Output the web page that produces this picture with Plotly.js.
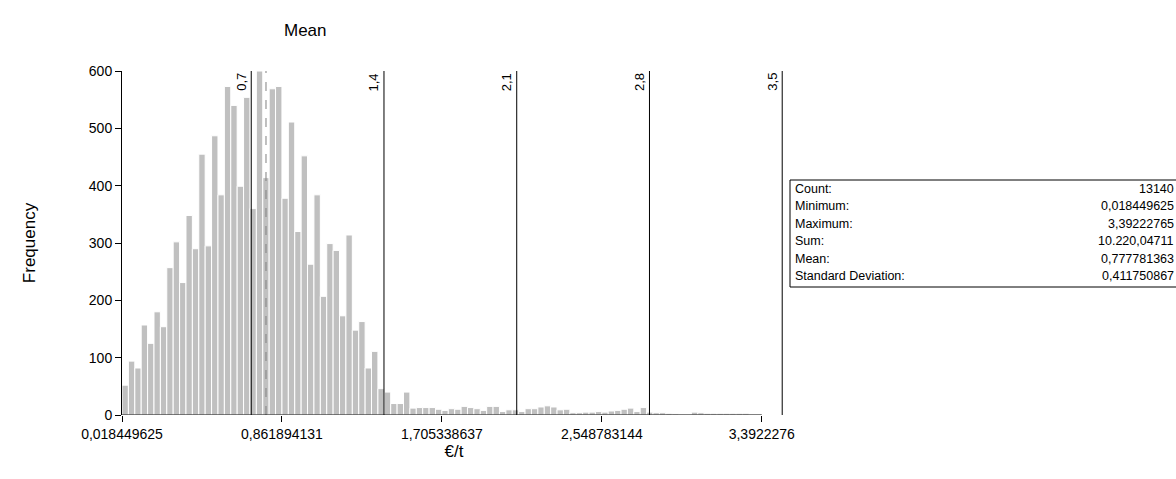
<!DOCTYPE html>
<html><head><meta charset="utf-8">
<script src="https://cdn.plot.ly/plotly-3.0.1.min.js"></script>
<style>html,body{margin:0;padding:0;background:#fff}#plot{width:1176px;height:479px}</style>
</head><body><div id="plot"></div>
<script>
"use strict";
// histogram of €/t, 100 bins from min to max
const xMin = 0.018449625;
const xMax = 3.39222765;
const meanValue = 0.777781363;
const counts = [52, 94, 82, 157, 125, 180, 154, 257, 302, 231,
  348, 290, 455, 295, 487, 384, 573, 540, 399, 554,
  360, 600, 414, 569, 573, 378, 511, 320, 452, 263,
  384, 207, 299, 287, 173, 314, 148, 163, 82, 111,
  46, 40, 20, 20, 40, 12, 13, 13, 13, 10,
  8, 11, 10, 15, 13, 11, 8, 15, 15, 6,
  9, 9, 6, 11, 11, 14, 16, 14, 9, 10,
  4, 4, 5, 5, 6, 5, 7, 8, 10, 12,
  6, 13, 5, 4, 4, 3, 2, 1, 0, 5,
  4, 3, 3, 3, 3, 3, 3, 3, 0, 0];
const refLines = [0.7, 1.4, 2.1, 2.8, 3.5];
const refLabels = ["0,7", "1,4", "2,1", "2,8", "3,5"];
const xTickVals = [0.018449625, 0.861894131, 1.705338637, 2.548783144, 3.39222765];
const xTickText = ["0,018449625", "0,861894131", "1,705338637", "2,548783144", "3,3922276"];
const statNames = ["Count:", "Minimum:", "Maximum:", "Sum:", "Mean:", "Standard Deviation:"];
const statValues = ["13140", "0,018449625", "3,39222765", "10.220,04711", "0,777781363", "0,411750867"];

const binW = (xMax - xMin) / counts.length;
const centers = counts.map((_, i) => xMin + binW * (i + 0.5));

const font = "Liberation Sans, Arial, sans-serif";
const px = p => (p - 122) / 664;   // pixel → paper x
const py = p => (415 - p) / 344;   // pixel → paper y

const shapes = refLines.map(v => ({
  type: "line", xref: "x", yref: "y", x0: v, x1: v, y0: 0, y1: 600,
  line: { color: "#000", width: 1 } }));
shapes.push({ type: "line", xref: "x", yref: "y", x0: meanValue, x1: meanValue,
  y0: 0, y1: 600, line: { color: "#808080", width: 1, dash: "dash" } });
shapes.push({ type: "line", xref: "x", yref: "y", x0: xMin, x1: xMax, y0: 0, y1: 0,
  line: { color: "#000", width: 1 } });
shapes.push({ type: "rect", xref: "paper", yref: "paper",
  x0: px(790), x1: px(1180), y0: py(180), y1: py(287),
  line: { color: "#000", width: 1 }, fillcolor: "#fff" });

const annotations = refLines.map((v, i) => ({
  x: v, y: 600, xref: "x", yref: "y", text: refLabels[i], textangle: -90,
  xanchor: "right", yanchor: "top", xshift: -1, showarrow: false,
  font: { family: font, size: 13, color: "#000" } }));
annotations.push({ x: px(282), y: py(30), xref: "paper", yref: "paper", text: "Mean",
  yanchor: "middle", showarrow: false, font: { family: font, size: 17, color: "#000" } });
statNames.forEach((n, i) => {
  const yy = py(189 + i * 17.4);
  annotations.push({ x: px(793), y: yy, xref: "paper", yref: "paper", text: n,
    xanchor: "left", showarrow: false, font: { family: font, size: 12.5, color: "#000" } });
  annotations.push({ x: px(1176), y: yy, xref: "paper", yref: "paper", text: statValues[i],
    xanchor: "right", showarrow: false, font: { family: font, size: 12.5, color: "#000" } });
});

const traces = [{
  type: "bar", x: centers, y: counts, width: binW,
  marker: { color: "#c0c0c0", line: { color: "#fff", width: 1 } },
  hoverinfo: "x+y", showlegend: false }];

const layout = {
  width: 1176, height: 479,
  margin: { l: 122, r: 390, t: 71, b: 64 },
  paper_bgcolor: "#fff", plot_bgcolor: "#fff",
  font: { family: font, size: 14, color: "#000" },
  bargap: 0,
  xaxis: { range: [xMin, 3.52], tickvals: xTickVals, ticktext: xTickText,
    ticks: "outside", ticklen: 6, tickcolor: "#000", showgrid: false,
    zeroline: false, showline: false,
    title: { text: "€/t", font: { family: font, size: 17 }, standoff: 4 } },
  yaxis: { range: [0, 600], tickvals: [0, 100, 200, 300, 400, 500, 600],
    ticks: "outside", ticklen: 6, tickcolor: "#000", showgrid: false,
    zeroline: false, showline: true, linecolor: "#000",
    title: { text: "Frequency", font: { family: font, size: 17 }, standoff: 48 } },
  shapes, annotations,
};
Plotly.newPlot("plot", traces, layout, { displayModeBar: false, staticPlot: true });
</script></body></html>
